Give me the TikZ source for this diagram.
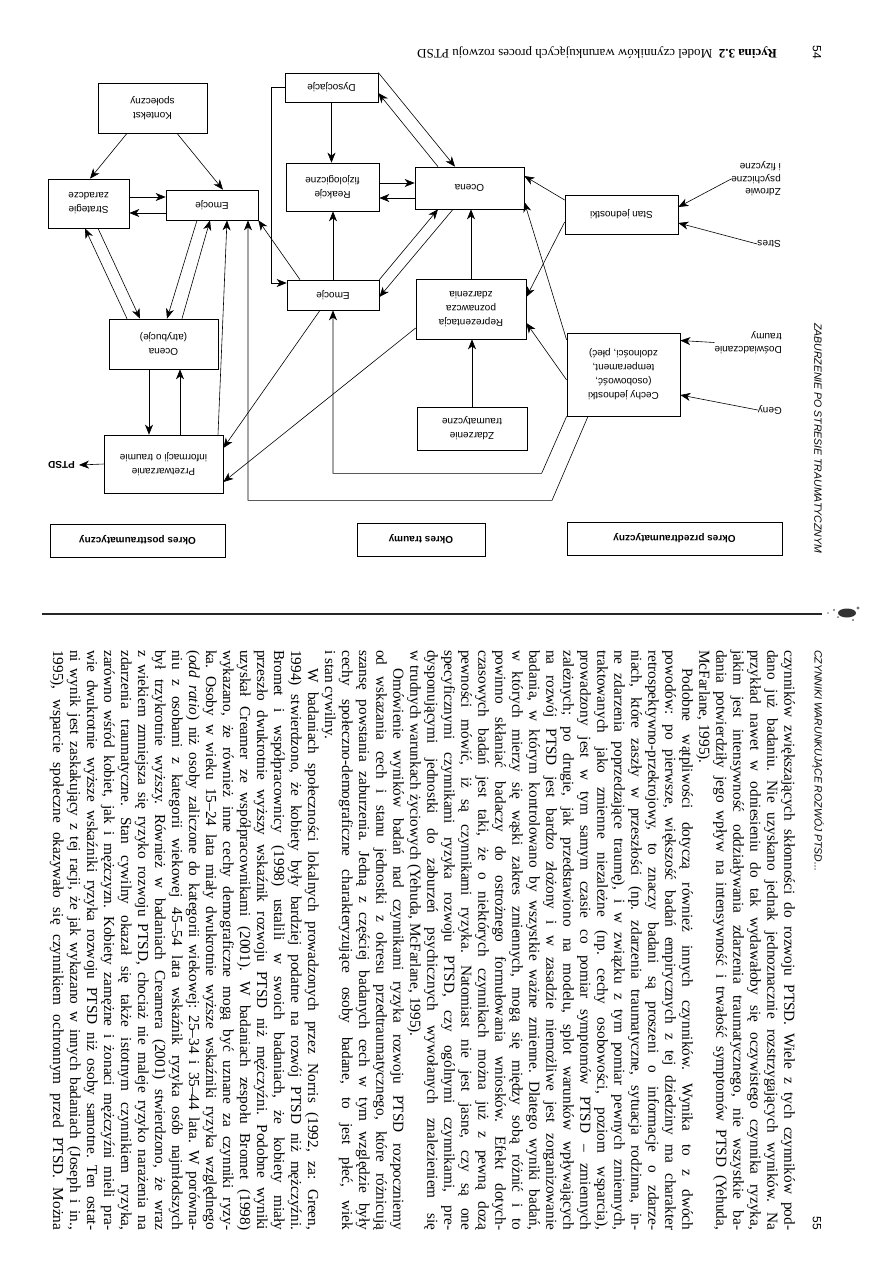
\documentclass[tikz,border=0pt]{standalone}
\usepackage{fontspec}
\setmainfont{Liberation Serif}
\setsansfont{Liberation Sans}
\usetikzlibrary{arrows.meta,calc}
\frenchspacing

% one printed line of page 55 (full, indented, last of a paragraph)
\newcommand{\wiersz}[2]{\node[wiersz] (w#1) at ({801.5-17.01*#1},650) {\makebox[580pt][s]{#2}};}
\newcommand{\wierszakapit}[2]{\node[wiersz] (w#1) at ({801.5-17.01*#1},668) {\makebox[562pt][s]{#2}};}
\newcommand{\wierszkoniec}[2]{\node[wiersz] (w#1) at ({801.5-17.01*#1},650) {#2};}

\begin{document}
\begin{tikzpicture}[x=1pt, y=-1pt,
    box/.style={draw, line width=0.7pt, align=center, inner sep=0pt, font=\sffamily\fontsize{10}{14}\selectfont},
    okres/.style={box, minimum height=33, font=\sffamily\bfseries\fontsize{10}{12}\selectfont},
    opis/.style={align=left, inner sep=0pt, anchor=west, font=\sffamily\fontsize{10}{12.5}\selectfont},
    arr/.style={-{Stealth[length=10pt,width=8pt,inset=3pt]}, line width=0.6pt},
    wiersz/.style={rotate=-90, anchor=base west, inner sep=0pt, font=\fontsize{15.3}{17}\selectfont},
    pagina/.style={rotate=-90, inner sep=0pt, font=\sffamily\itshape\fontsize{10.5}{13}\selectfont}]
\useasboundingbox (0,0) rectangle (893,1262);

% page 54: the figure is printed upside down
\begin{scope}[shift={(893,610)}, rotate=180, transform shape]
    \node[okres, minimum width=215] (przed) at (218.5,71.5) {Okres przedtraumatyczny};
    \node[okres, minimum width=128] (trauma) at (472,70.5) {Okres traumy};
    \node[okres, minimum width=175] (post) at (755.5,69.5) {Okres posttraumatyczny};

    \node[box, minimum width=113, minimum height=83] (cechy) at (269.5,235.5) {Cechy jednostki\\(osobowość,\\temperament,\\zdolności, płeć)};
    \node[box, minimum width=113, minimum height=39] (stan) at (271.5,395.5) {Stan jednostki};
    \node[box, minimum width=110, minimum height=43] (zdarzenie) at (421,181.5) {Zdarzenie\\traumatyczne};
    \node[box, minimum width=110, minimum height=60] (repr) at (422,301) {Reprezentacja\\poznawcza\\zdarzenia};
    \node[box, minimum width=109, minimum height=42] (ocena) at (423.5,422) {Ocena};
    \node[box, minimum width=92, minimum height=30] (emoA) at (560,315) {Emocje};
    \node[box, minimum width=93, minimum height=48] (reakcje) at (560.5,423) {Reakcje\\fizjologiczne};
    \node[box, minimum width=93, minimum height=29] (dysocjacje) at (561.5,522.5) {Dysocjacje};
    \node[box, minimum width=119, minimum height=58] (przetw) at (729.5,146) {Przetwarzanie\\informacji o traumie};
    \node[box, minimum width=109, minimum height=50] (ocenaAtr) at (729.5,266) {Ocena\\(atrybucje)};
    \node[box, minimum width=92, minimum height=30] (emoB) at (681,405) {Emocje};
    \node[box, minimum width=81, minimum height=49] (strategie) at (804.5,406.5) {Strategie\\zaradcze};
    \node[box, minimum width=109, minimum height=50] (kontekst) at (740.5,502) {Kontekst\\społeczny};

    \node[opis] (geny) at (111,200) {Geny};
    \node[opis] (doswiadczanie) at (111,267.5) {Doświadczanie\\traumy};
    \node[opis] (stres) at (112,366) {Stres};
    \node[opis] (zdrowie) at (112,431) {Zdrowie\\psychiczne\\i fizyczne};
    \node[opis, font=\sffamily\bfseries\fontsize{10}{12}\selectfont] (ptsd) at (818,145) {PTSD};

    \node[anchor=base west, inner sep=0pt, font=\fontsize{13}{15}\selectfont] (tytul) at (116,561)
        {\textbf{Rycina 3.2}\enspace Model czynników warunkujących proces rozwoju PTSD};

    % przed trauma
    \draw[arr] (geny.east) -- ($(cechy.west)+(0,-20.5)$);
    \draw[arr] (doswiadczanie.east) -- ($(cechy.west)+(0,34)$);
    \draw[arr] (stres.east) -- ($(stan.west)+(0,-8.5)$);
    \draw[arr] (zdrowie.east) -- ($(stan.west)+(0,7.5)$);
    \draw[arr] ($(cechy.east)+(0,-5.5)$) -- ($(repr.west)+(0,-14)$);
    \draw[arr] ($(cechy.east)+(0,34.5)$) -- ($(ocena.west)+(0,-14)$);
    \draw[arr] ($(stan.east)+(0,-7.5)$) -- ($(repr.west)+(0,12)$);
    \draw[arr] ($(stan.east)+(0,14.5)$) -- ($(ocena.west)+(0,12)$);
    \draw[arr] ($(cechy.north)+(35.5,0)$) -- ++(36,-84) -| ($(emoB.north)+(-36,0)$);
    \draw[arr] (cechy.north east) -- ++(25,-57) -| (emoA.north);

    % trauma
    \draw[arr] (zdarzenie.south) -- (zdarzenie.south |- repr.north);
    \draw[arr] (repr.south) -- (repr.south |- ocena.north);
    \draw[arr] (emoA.south west) -- ($(ocena.north)+(31.5,0)$);
    \draw[arr] ($(ocena.north)+(16.5,0)$) -- ($(emoA.west)+(0,-2)$);
    \draw[arr] (dysocjacje.south west) -- ($(ocena.south)+(14.5,0)$);
    \draw[arr] ($(ocena.south)+(31.5,0)$) -- ($(dysocjacje.west)+(0,-5.5)$);
    \draw[arr] ($(reakcje.west)+(0,4)$) -- ($(ocena.east)+(0,5)$);
    \draw[arr] ($(ocena.east)+(0,-10)$) -- ($(reakcje.west)+(0,-11)$);
    \draw[arr] (emoA.south) -- (emoA.south |- reakcje.north);
    \draw[arr] (dysocjacje.north) -- (dysocjacje.north |- reakcje.south);
    \draw[arr] (dysocjacje.east) -- ++(13,0) |- ($(emoA.east)+(0,12)$);

    % po traumie
    \draw[arr] ($(emoA.north)+(13,0)$) -- ($(przetw.west)+(0,16)$);
    \draw[arr] ($(repr.east)+(0,-19)$) -- ($(przetw.west)+(0,-18)$);
    \draw[arr] ($(emoA.south)+(33,0)$) -- (emoB.north west);
    \draw[arr] ($(przetw.south)+(-54.5,0)$) -- ($(emoB.north)+(-15,0)$);
    \draw[arr] ($(ocenaAtr.north)+(14.5,0)$) -- ($(przetw.south)+(14.5,0)$);
    \draw[arr] ($(przetw.south)+(-16.5,0)$) -- ($(ocenaAtr.north)+(-16.5,0)$);
    \draw[arr] ($(emoB.north)+(15,0)$) -- ($(ocenaAtr.south)+(-3.5,0)$);
    \draw[arr] ($(ocenaAtr.south)+(-18.5,0)$) -- ($(emoB.north)+(2,0)$);
    \draw[arr] ($(ocenaAtr.south)+(36.5,0)$) -- ($(strategie.north)+(3.5,0)$);
    \draw[arr] ($(strategie.north)+(-9.5,0)$) -- ($(ocenaAtr.south)+(23.5,0)$);
    \draw[arr] ($(strategie.west)+(0,6.5)$) -- ($(emoB.east)+(0,8)$);
    \draw[arr] ($(emoB.east)+(0,-8)$) -- ($(strategie.west)+(0,-9.5)$);
    \draw[arr] ($(kontekst.north)+(25.5,0)$) -- ($(strategie.south)+(-1.5,0)$);
    \draw[arr] ($(kontekst.north)+(-24.5,0)$) -- ($(emoB.south)+(-11,0)$);
    \draw[arr] (przetw.east) -- ($(ptsd.west)+(-4,0)$);
\end{scope}

\node[pagina, font=\sffamily\fontsize{12}{14}\selectfont] (strona54) at (817,52) {54};
\node[pagina, anchor=east] (naglowek54) at (818,553) {ZABURZENIE PO STRESIE TRAUMATYCZNYM};

% gutter
\draw[line width=2.2pt, black!85] (42,614) -- (822,614);
\fill[black!80] (847,613) ellipse (9 and 4.5);
\fill[black!55] (834,610) circle (1.2) (838,617) circle (1) (858,608) circle (1.6) (828,613) circle (0.8) (853,620) circle (1.2);

% page 55
\node[pagina, anchor=west] (naglowek55) at (818,650) {CZYNNIKI WARUNKUJĄCE ROZWÓJ PTSD...};
\node[pagina, anchor=east, font=\sffamily\fontsize{12}{14}\selectfont] (strona55) at (817,1230) {55};

\wiersz{1}{czynników zwiększających skłonności do rozwoju PTSD. Wiele z tych czynników pod-}
\wiersz{2}{dano już badaniu. Nie uzyskano jednak jednoznacznie rozstrzygających wyników. Na}
\wiersz{3}{przykład nawet w odniesieniu do tak wydawałoby się oczywistego czynnika ryzyka,}
\wiersz{4}{jakim jest intensywność oddziaływania zdarzenia traumatycznego, nie wszystkie ba-}
\wiersz{5}{dania potwierdziły jego wpływ na intensywność i trwałość symptomów PTSD (Yehuda,}
\wierszkoniec{6}{McFarlane, 1995).}
\wierszakapit{7}{Podobne wątpliwości dotyczą również innych czynników. Wynika to z dwóch}
\wiersz{8}{powodów: po pierwsze, większość badań empirycznych z tej dziedziny ma charakter}
\wiersz{9}{retrospektywno-przekrojowy, to znaczy badani są proszeni o informacje o zdarze-}
\wiersz{10}{niach, które zaszły w przeszłości (np. zdarzenia traumatyczne, sytuacja rodzinna, in-}
\wiersz{11}{ne zdarzenia poprzedzające traumę), i w związku z tym pomiar pewnych zmiennych,}
\wiersz{12}{traktowanych jako zmienne niezależne (np. cechy osobowości, poziom wsparcia),}
\wiersz{13}{prowadzony jest w tym samym czasie co pomiar symptomów PTSD – zmiennych}
\wiersz{14}{zależnych; po drugie, jak przedstawiono na modelu, splot warunków wpływających}
\wiersz{15}{na rozwój PTSD jest bardzo złożony i w zasadzie niemożliwe jest zorganizowanie}
\wiersz{16}{badania, w którym kontrolowano by wszystkie ważne zmienne. Dlatego wyniki badań,}
\wiersz{17}{w których mierzy się wąski zakres zmiennych, mogą się między sobą różnić i to}
\wiersz{18}{powinno skłaniać badaczy do ostrożnego formułowania wniosków. Efekt dotych-}
\wiersz{19}{czasowych badań jest taki, że o niektórych czynnikach można już z pewną dozą}
\wiersz{20}{pewności mówić, iż są czynnikami ryzyka. Natomiast nie jest jasne, czy są one}
\wiersz{21}{specyficznymi czynnikami ryzyka rozwoju PTSD, czy ogólnymi czynnikami, pre-}
\wiersz{22}{dysponującymi jednostki do zaburzeń psychicznych wywołanych znalezieniem się}
\wierszkoniec{23}{w trudnych warunkach życiowych (Yehuda, McFarlane, 1995).}
\wierszakapit{24}{Omówienie wyników badań nad czynnikami ryzyka rozwoju PTSD rozpoczniemy}
\wiersz{25}{od wskazania cech i stanu jednostki z okresu przedtraumatycznego, które różnicują}
\wiersz{26}{szansę powstania zaburzenia. Jedną z częściej badanych cech w tym względzie były}
\wiersz{27}{cechy społeczno-demograficzne charakteryzujące osoby badane, to jest płeć, wiek}
\wierszkoniec{28}{i stan cywilny.}
\wierszakapit{29}{W badaniach społeczności lokalnych prowadzonych przez Norris (1992, za: Green,}
\wiersz{30}{1994) stwierdzono, że kobiety były bardziej podatne na rozwój PTSD niż mężczyźni.}
\wiersz{31}{Bromet i współpracownicy (1998) ustalili w swoich badaniach, że kobiety miały}
\wiersz{32}{przeszło dwukrotnie wyższy wskaźnik rozwoju PTSD niż mężczyźni. Podobne wyniki}
\wiersz{33}{uzyskał Creamer ze współpracownikami (2001). W badaniach zespołu Bromet (1998)}
\wiersz{34}{wykazano, że również inne cechy demograficzne mogą być uznane za czynniki ryzy-}
\wiersz{35}{ka. Osoby w wieku 15–24 lata miały dwukrotnie wyższe wskaźniki ryzyka względnego}
\wiersz{36}{(\textit{odd ratio}) niż osoby zaliczone do kategorii wiekowej: 25–34 i 35–44 lata. W porówna-}
\wiersz{37}{niu z osobami z kategorii wiekowej 45–54 lata wskaźnik ryzyka osób najmłodszych}
\wiersz{38}{był trzykrotnie wyższy. Również w badaniach Creamera (2001) stwierdzono, że wraz}
\wiersz{39}{z wiekiem zmniejsza się ryzyko rozwoju PTSD, chociaż nie maleje ryzyko narażenia na}
\wiersz{40}{zdarzenia traumatyczne. Stan cywilny okazał się także istotnym czynnikiem ryzyka,}
\wiersz{41}{zarówno wśród kobiet, jak i mężczyzn. Kobiety zamężne i żonaci mężczyźni mieli pra-}
\wiersz{42}{wie dwukrotnie wyższe wskaźniki ryzyka rozwoju PTSD niż osoby samotne. Ten ostat-}
\wiersz{43}{ni wynik jest zaskakujący z tej racji, że jak wykazano w innych badaniach (Joseph i in.,}
\wiersz{44}{1995), wsparcie społeczne okazywało się czynnikiem ochronnym przed PTSD. Można}
\end{tikzpicture}
\end{document}
